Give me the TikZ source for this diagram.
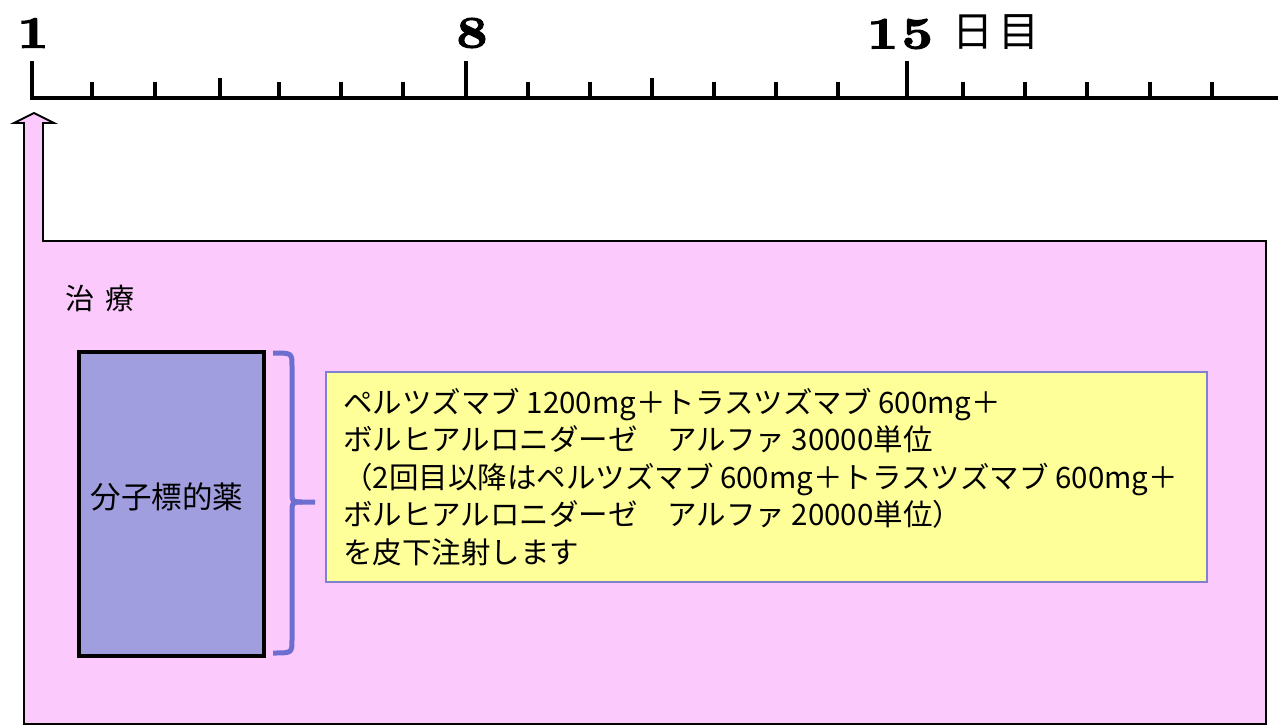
\documentclass[tikz,border=0pt]{standalone}
\usepackage{fontspec}
\usepackage{graphicx}
\newfontfamily\jp{Noto Sans CJK JP}
\newfontfamily\numfont{lmroman10-bold.otf}[FakeBold=2.5]
\definecolor{pinkbg}{RGB}{252,201,252}
\definecolor{molfill}{RGB}{160,158,222}
\definecolor{yellowbg}{RGB}{255,255,153}
\definecolor{bracketc}{RGB}{110,110,208}
\definecolor{yborder}{RGB}{128,128,208}
\tikzset{
  daylabel/.style={font=\numfont\fontsize{45}{45}\selectfont, inner sep=0pt},
  jptext/.style={font=\jp\fontsize{29.5}{37.5}\selectfont, inner sep=0pt, anchor=base west},
  minortick/.style={line width=3.5pt},
  majortick/.style={line width=4pt},
}
\begin{document}
\begin{tikzpicture}[x=1pt,y=-1pt]
\useasboundingbox (0,0) rectangle (1278,728);
% frame with arrow
\draw[fill=pinkbg, line width=1.8pt, line join=miter]
  (24,724) -- (24,123) -- (14,123) -- (34,113) -- (54,123) -- (43,123)
  -- (43,241) -- (1266,241) -- (1266,724) -- cycle;
% axis
\draw[line width=4.5pt] (30,98) -- (1278,98);
\draw[majortick] (32,98) -- (32,61);
\draw[majortick] (466,98) -- (466,61);
\draw[majortick] (907,98) -- (907,61);
\foreach \x in {92,155,279,341,403,528,590,714,776,838,963,1025,1087,1150,1212}
  \draw[minortick] (\x,98) -- (\x,82);
\foreach \x in {220,652}
  \draw[minortick] (\x,98) -- (\x,78);
% day labels
\node[daylabel] (d1) at (33,33) {\scalebox{1.2}[1]{1}};
\node[daylabel] (d8) at (472,33) {\scalebox{1.2}[1]{8}};
\node[daylabel] (d15) at (900,34) {\scalebox{1.2}[1]{1\kern3pt 5}};
\node[font=\jp\fontsize{41}{41}\selectfont, inner sep=0pt] (nichime) at (996,32) {日\hspace{6pt}目};
% treatment label
\node[font=\jp\fontsize{29}{29}\selectfont, inner sep=0pt, anchor=base west] (chiryo) at (65,309) {治\hspace{11pt}療};
% molecular target drug box
\node[draw=black, line width=4pt, fill=molfill, minimum width=185pt, minimum height=304pt, inner sep=0pt] (mol) at (171,504) {};
\node[font=\jp\fontsize{30.5}{30.5}\selectfont, inner sep=0pt] (moltext) at (167,497) {分子標的薬};
% bracket
\coordinate (btop) at (273,353);
\coordinate (bbot) at (273,653);
\coordinate (bmid) at (315,502);
\draw[bracketc, line width=5pt, line cap=butt]
  (btop) .. controls (292,353) .. (292,366) -- (292,490)
  .. controls (292,502) .. (302,502) -- (bmid);
\draw[bracketc, line width=5pt, line cap=butt]
  (302,502) .. controls (292,502) .. (292,514) -- (292,640)
  .. controls (292,653) .. (bbot);
% yellow text box
\node[draw=yborder, line width=1.5pt, fill=yellowbg, minimum width=881pt, minimum height=210pt, inner sep=0pt, anchor=north west] (ybox) at (325,371) {};
\node[jptext] (l1) at (343,413) {ペルツズマブ 1200mg＋トラスツズマブ 600mg＋};
\node[jptext] (l2) at (343,450.5) {ボルヒアルロニダーゼ　アルファ 30000単位};
\node[jptext] (l3) at (343,488) {（2回目以降はペルツズマブ 600mg＋トラスツズマブ 600mg＋};
\node[jptext] (l4) at (343,525.5) {ボルヒアルロニダーゼ　アルファ 20000単位）};
\node[jptext] (l5) at (343,563) {を皮下注射します};
\end{tikzpicture}
\end{document}
